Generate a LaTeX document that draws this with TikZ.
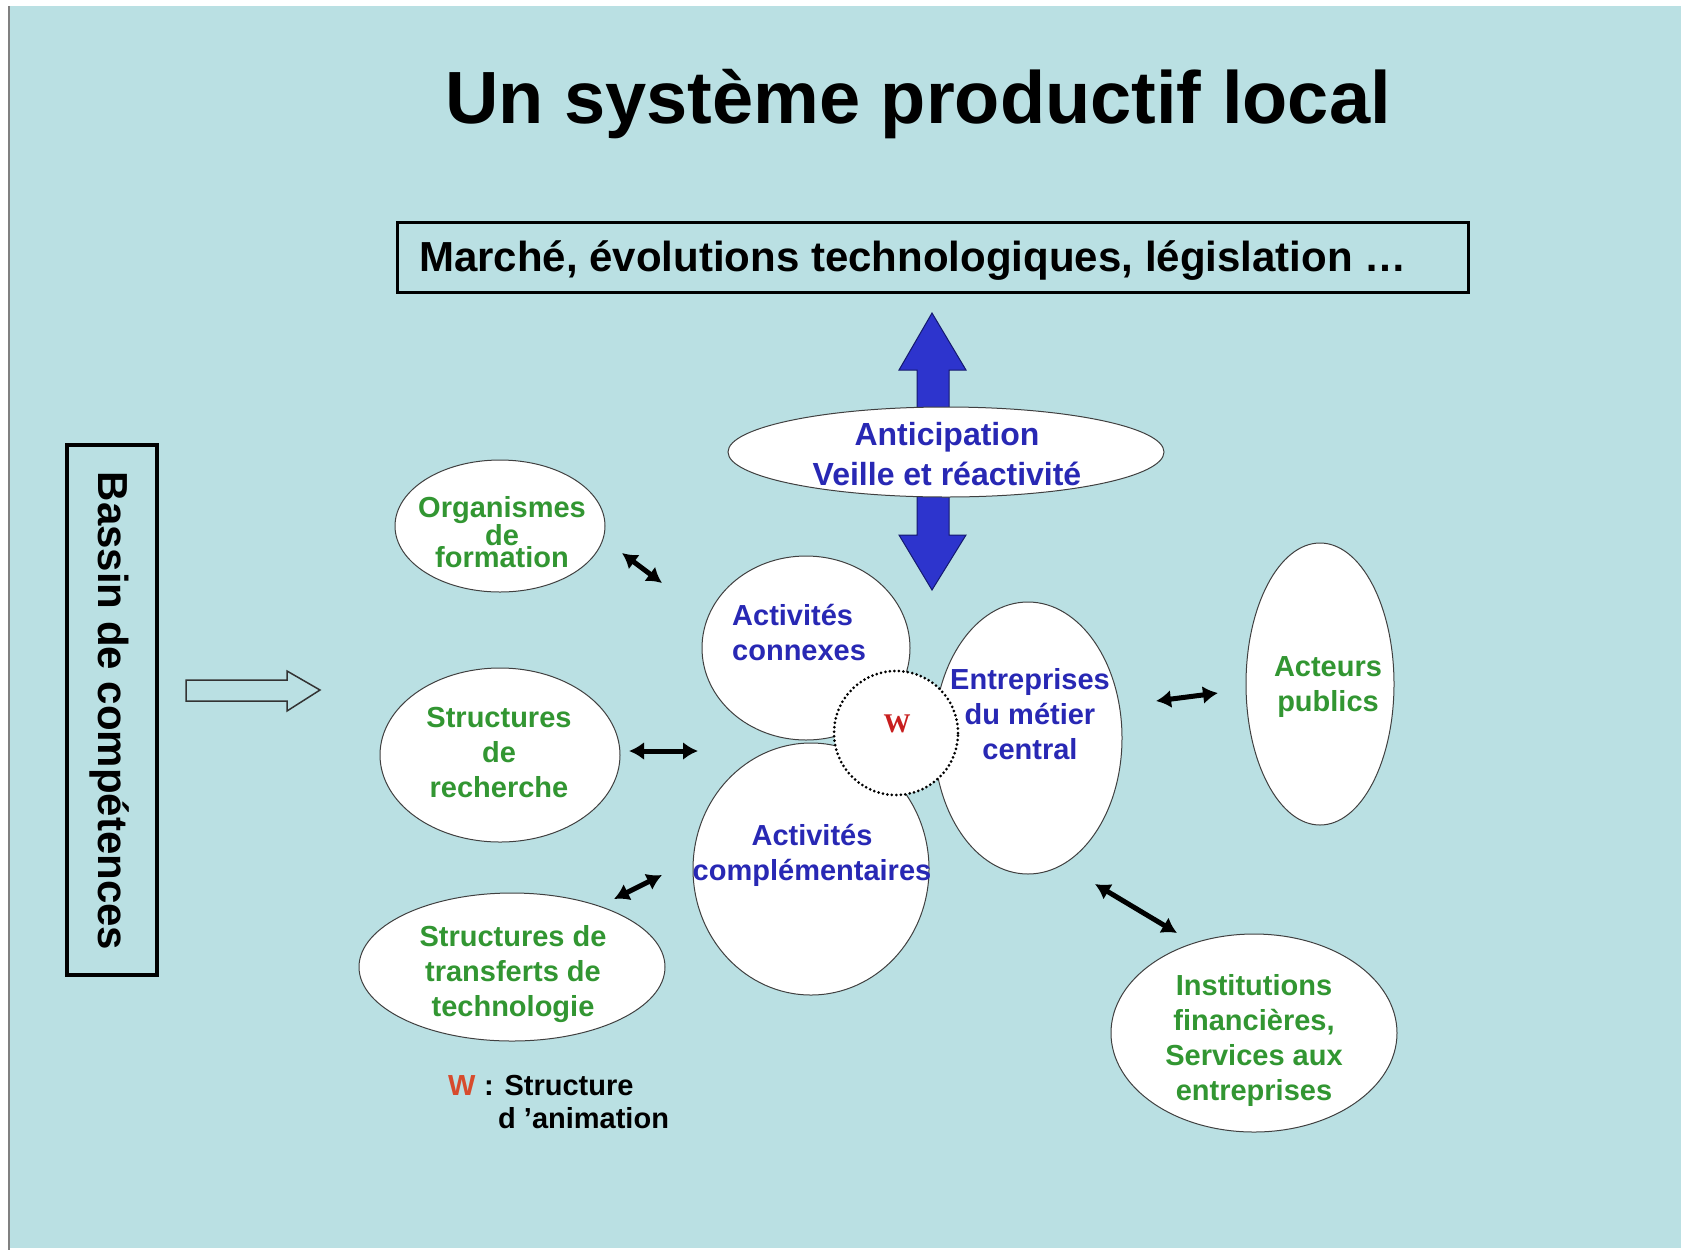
\documentclass[tikz,border=0pt]{standalone}
\usepackage{fontspec}
\setmainfont{Liberation Sans}
\newfontfamily\wfont{Liberation Serif}
\usetikzlibrary{shapes.geometric,arrows.meta}
\definecolor{bgc}{RGB}{186,224,227}
\definecolor{tblue}{RGB}{40,40,180}
\definecolor{ablue}{RGB}{45,52,205}
\definecolor{aedge}{RGB}{20,25,110}
\definecolor{tgreen}{RGB}{50,150,50}
\definecolor{wred}{RGB}{200,30,30}
\definecolor{lred}{RGB}{215,75,45}
\begin{document}
\begin{tikzpicture}[x=1pt,y=-1pt,
 bubble/.style={ellipse,draw=black!75,line width=1pt,fill=white,inner sep=0pt},
 btxt/.style={text=tblue,font=\fontsize{29}{35}\selectfont\bfseries,align=center,inner sep=0pt},
 gtxt/.style={text=tgreen,font=\fontsize{29}{35}\selectfont\bfseries,align=center,inner sep=0pt},
 link/.style={line width=5pt,{Latex[length=15pt,width=18pt]}-{Latex[length=15pt,width=18pt]}},
 framebox/.style={draw=black,line width=3pt},
]
\fill[white] (0,0) rectangle (1683,1250);
\fill[bgc] (10,6) rectangle (1681,1248);
\draw[gray,line width=2pt] (9,6) -- (9,1250);
\useasboundingbox (0,0) rectangle (1683,1250);

% title
\node[anchor=base,inner sep=0pt,font=\fontsize{74}{80}\selectfont\bfseries] (title) at (918,123) {Un système productif local};

% market box
\draw[framebox] (397,222) rectangle (1468,292);
\node[anchor=base west,inner sep=0pt,font=\fontsize{42}{48}\selectfont\bfseries] (market) at (419,271) {Marché, évolutions technologiques, législation …};

% bassin box
\draw[framebox,line width=3.5pt] (67,445) rectangle (157,975);
\node[rotate=-90,inner sep=0pt,font=\fontsize{42}{48}\selectfont\bfseries] (bassin) at (110,711) {Bassin de compétences};

% hollow arrow
\draw[black!80,line width=1.5pt,fill=bgc] (186,680) -- (287,680) -- (287,671) -- (320,690) -- (287,711) -- (287,701) -- (186,701) -- cycle;

% blue double arrow
\draw[aedge,line width=1pt,fill=ablue,line join=miter] (932,313) -- (966,370) -- (949,370) -- (949,535) -- (966,535) -- (932,590) -- (899,535) -- (917,535) -- (917,370) -- (899,370) -- cycle;

% anticipation
\node[bubble,minimum width=436pt,minimum height=90pt] (antic) at (946,452) {};
\node[text=tblue,font=\fontsize{32}{40}\selectfont\bfseries,align=center,inner sep=0pt] (antictxt) at (947,454) {Anticipation\\Veille et réactivité};

% central cluster
\node[bubble,minimum width=208pt,minimum height=184pt] (connexes) at (806,648) {};
\node[bubble,minimum width=236pt,minimum height=252pt] (compl) at (811,869) {};
\node[bubble,minimum width=188pt,minimum height=272pt] (entr) at (1028,738) {};
\node[circle,draw=black,line width=3pt,dash pattern=on 0pt off 4.5pt,line cap=round,fill=white,minimum size=124pt,inner sep=0pt] (w) at (896,733) {};
\node[text=wred,font=\wfont\fontsize{27}{30}\selectfont\bfseries,inner sep=0pt] (wtxt) at (897,724) {W};

\node[btxt,align=left,anchor=west] (connexestxt) at (732,632) {Activités\\connexes};
\node[btxt] (compltxt) at (812,855) {Activités\\complémentaires};
\node[btxt] (entrtxt) at (1030,714) {Entreprises\\du métier\\central};

% green bubbles
\node[bubble,minimum width=210pt,minimum height=132pt] (orga) at (500,526) {};
\node[gtxt,font=\fontsize{29}{22}\selectfont\bfseries] (orgatxt) at (502,532) {Organismes\\de\\formation};

\node[bubble,minimum width=240pt,minimum height=174pt] (rech) at (500,755) {};
\node[gtxt] (rechtxt) at (499,753) {Structures\\de\\recherche};

\node[bubble,minimum width=306pt,minimum height=148pt] (transf) at (512,967) {};
\node[gtxt] (transftxt) at (513,974) {Structures de\\transferts de\\technologie};

\node[bubble,minimum width=148pt,minimum height=282pt] (acteurs) at (1320,684) {};
\node[gtxt] (acteurstxt) at (1328,687) {Acteurs\\publics};

\node[bubble,minimum width=286pt,minimum height=198pt] (instit) at (1254,1033) {};
\node[gtxt] (instittxt) at (1254,1040) {Institutions\\financières,\\Services aux\\entreprises};

% black double arrows
\coordinate (a1s) at (622,553); \coordinate (a1e) at (662,583);
\coordinate (a2s) at (629,751); \coordinate (a2e) at (698,751);
\coordinate (a3s) at (614,899); \coordinate (a3e) at (662,875);
\coordinate (a4s) at (1156,701); \coordinate (a4e) at (1218,693);
\coordinate (a5s) at (1095,884); \coordinate (a5e) at (1177,933);
\draw[link] (a1s) -- (a1e);
\draw[link] (a2s) -- (a2e);
\draw[link] (a3s) -- (a3e);
\draw[link] (a4s) -- (a4e);
\draw[link] (a5s) -- (a5e);

% legend
\node[anchor=base west,inner sep=0pt,text=lred,font=\fontsize{29}{35}\selectfont\bfseries] (legw) at (448,1095) {W};
\node[anchor=base west,inner sep=0pt,font=\fontsize{29}{35}\selectfont\bfseries] (leg1) at (484,1095) {: Structure};
\node[anchor=base west,inner sep=0pt,font=\fontsize{29}{35}\selectfont\bfseries] (leg2) at (498,1128) {d 'animation};
\end{tikzpicture}
\end{document}
